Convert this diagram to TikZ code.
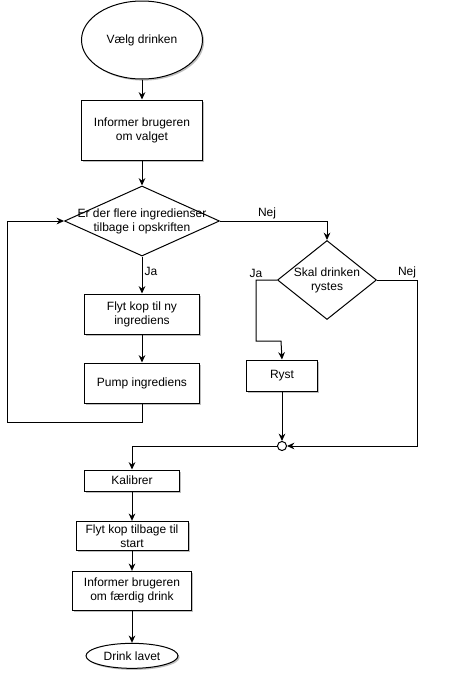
\documentclass[tikz,border=0pt]{standalone}
\usepackage{fontspec}
\setmainfont{Liberation Sans}
\usepackage{tikz}
\usetikzlibrary{arrows.meta,positioning,shapes.geometric,shadows}
\tikzset{
  shade/.style={drop shadow={shadow xshift=1.2pt, shadow yshift=-1.2pt, opacity=0.25, fill=black}},
  stepbox/.style={rectangle, draw=black, line width=0.75pt, fill=white, shade,
                  align=center, inner sep=0pt, minimum width=#1},
  terminal/.style={ellipse, draw=black, line width=0.75pt, fill=white, shade,
                   align=center, inner sep=0pt},
  decision/.style={diamond, draw=black, line width=0.75pt, fill=white, inner sep=0pt},
  joint/.style={circle, draw=black, line width=0.75pt, fill=white, inner sep=0pt, minimum size=6.8pt},
  arr/.style={-{Stealth[length=5.5pt, width=5pt]}, line width=0.75pt, draw=black},
  lbl/.style={font=\fontsize{9pt}{10.5pt}\selectfont, inner sep=1.5pt},
}

\begin{document}
\begin{tikzpicture}[x=0.75pt, y=-0.75pt, font=\fontsize{9pt}{10.5pt}\selectfont]
    \useasboundingbox (0,0) rectangle (449,682);
    \node[terminal, minimum width=90.75pt, minimum height=58.5pt] (start) at (142,40) {Vælg drinken};
    \node[stepbox=90.75pt, minimum height=45pt, below=15pt of start] (info)
      {Informer brugeren\\om valget};
    \node[decision, minimum width=116.25pt, minimum height=52.5pt, below=18.75pt of info,
      label={[align=center, lbl]center:Er der flere ingredienser\\tilbage i opskriften}] (flere) {};
    \node[stepbox=86.25pt, minimum height=30pt, below=27.75pt of flere] (flyt)
      {Flyt kop til ny\\ingrediens};
    \node[stepbox=86.25pt, minimum height=30pt, below=21pt of flyt] (pump) {Pump ingrediens};
    \node[decision, minimum width=74.25pt, minimum height=59.25pt,
      label={[align=center, lbl]center:Skal drinken\\rystes}] (ryster) at (327,280) {};
    \node[stepbox=53.25pt, minimum height=23.25pt] (ryst) at (282,375.5) {Ryst};
    \node[joint] (samle) at (282,446) {};
    \node[stepbox=71.25pt, minimum height=15.75pt] (kal) at (132,480.5) {Kalibrer};
    \node[stepbox=84pt, minimum height=21.75pt, below=22pt of kal] (tilbage)
      {Flyt kop tilbage til\\start};
    \node[stepbox=89.25pt, minimum height=29.25pt, below=15pt of tilbage] (faerdig)
      {Informer brugeren\\om færdig drink};
    \node[terminal, minimum width=69pt, minimum height=18.75pt, below=24pt of faerdig] (slut)
      {Drink lavet};
    \draw[arr] (start) -- (info);
    \draw[arr] (info) -- (flere);
    \draw[arr] (flere) -- node[lbl, right, pos=0.4] {Ja} (flyt);
    \draw[arr] (flyt) -- (pump);
    \draw[arr] (pump.south) |- ++(-135,19) |- (flere.west);
    \draw[arr] (flere.east) -| node[lbl, above, pos=0.22] {Nej} (ryster.north);
    \draw[arr] (ryster.west) -- ++(-21,0) node[lbl, above] {Ja} |- ++(25,61) -- (ryst.north);
    \draw[arr] (ryster.east) -- node[lbl, above, pos=0.75] {Nej} ++(40,0) |- (samle.east);
    \draw[arr] (ryst) -- (samle);
    \draw[arr] (samle.west) -| (kal.north);
    \draw[arr] (kal) -- (tilbage);
    \draw[arr] (tilbage) -- (faerdig);
    \draw[arr] (faerdig) -- (slut);
  \end{tikzpicture}
\end{document}
